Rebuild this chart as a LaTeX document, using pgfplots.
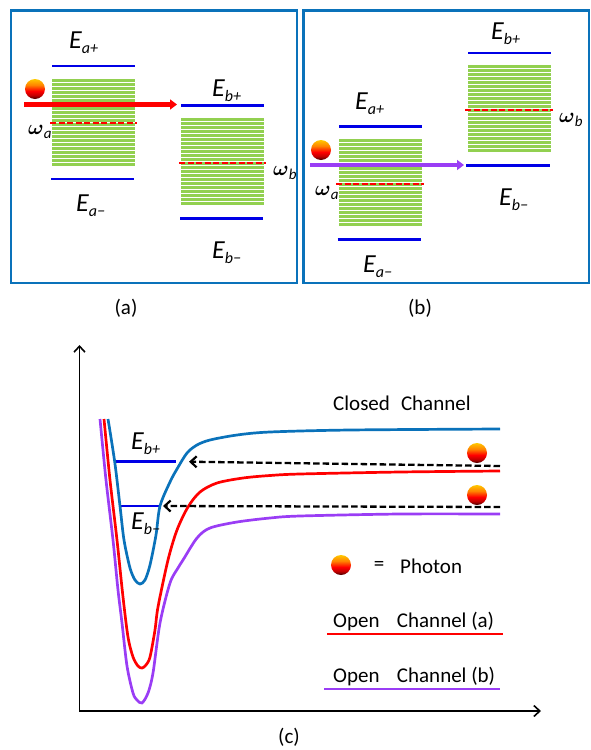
\documentclass[border=0pt]{standalone}
\usepackage{fontspec}
\setmainfont{Carlito}
\usepackage{pgfplots}
\pgfplotsset{compat=1.18}
\usetikzlibrary{arrows.meta}
\definecolor{boxblue}{HTML}{0A72BA}
\definecolor{lev}{HTML}{0000E6}
\definecolor{grn}{HTML}{92D050}
\definecolor{purp}{HTML}{9A3DF5}
\definecolor{ph1}{HTML}{FFC800}
\definecolor{ph2}{HTML}{FF8400}
\pgfdeclareverticalshading{photonsh}{100bp}{color(0bp)=(black!70!red); color(25bp)=(black!75!red); color(34bp)=(black!25!red); color(45bp)=(red); color(60bp)=(ph2); color(75bp)=(ph1); color(100bp)=(ph1)}
\pgfdeclareplotmark{photon}{%
  \shade[shading=photonsh, draw=none] (0,0) circle (10pt);}
\newcommand\lab[2]{{\fontsize{26}{26}\selectfont\itshape #1}{\fontsize{16}{16}\selectfont\itshape\raisebox{-5pt}{#2}}}
\newcommand\om[1]{{\fontsize{21}{21}\selectfont$\boldsymbol{\omega}$}{\fontsize{15}{15}\selectfont\itshape\raisebox{-4pt}{#1}}}
\usepackage{amsmath}
\tikzset{t/.style={inner sep=0pt,anchor=base west}, c/.style={inner sep=0pt,anchor=center}}
\pgfplotsset{
  band/.style={draw=none,mark=none,forget plot,
    error bars/.cd,x dir=plus,x fixed=83,error mark=none,
    error bar style={grn,line width=3pt,solid}},
  level/.style={lev,line width=2.5pt,mark=none},
  rdash/.style={red,line width=2.5pt,mark=none,dash pattern=on 6pt off 2.5pt},
  pot/.style={line width=2.7pt,mark=none,smooth,tension=0.5},
  blk/.style={black,line width=2.3pt,mark=none,dash pattern=on 6.5pt off 3pt,-{Straight Barb[length=6pt,width=11pt,line width=2.2pt]}},
  ax/.style={black,line width=1.7pt,mark=none,-{Straight Barb[length=6pt,width=11pt,line width=1.6pt]}},
  ball/.style={only marks,mark=photon},
}
\begin{document}
\begin{tikzpicture}
\useasboundingbox (0,0) rectangle (590pt,750pt);
\begin{axis}[
  at={(0,0)}, anchor=south west,
  hide axis, scale only axis, width=590pt, height=750pt,
  xmin=0,xmax=590,ymin=0,ymax=750,y dir=reverse,clip=false]
% frames
\addplot[boxblue,line width=2.3pt,mark=none] coordinates {(11,10.5)(297,10.5)(297,283)(11,283)(11,10.5)(297,10.5)};
\addplot[boxblue,line width=2.3pt,mark=none] coordinates {(303.5,10.5)(589,10.5)(589,283)(303.5,283)(303.5,10.5)(589,10.5)};
% bands
\addplot[band] coordinates {(52,80)(52,84)(52,88)(52,92)(52,96)(52,100)(52,104)(52,108)(52,112)(52,116)(52,120)(52,124)(52,128)(52,132)(52,136)(52,140)(52,144)(52,148)(52,152)(52,156)(52,160)(52,164)};
\addplot[band] coordinates {(181,119)(181,123)(181,127)(181,131)(181,135)(181,139)(181,143)(181,147)(181,151)(181,155)(181,159)(181,163)(181,167)(181,171)(181,175)(181,179)(181,183)(181,187)(181,191)(181,195)(181,199)(181,203)};
\addplot[band] coordinates {(339,140)(339,144)(339,148)(339,152)(339,156)(339,160)(339,164)(339,168)(339,172)(339,176)(339,180)(339,184)(339,188)(339,192)(339,196)(339,200)(339,204)(339,208)(339,212)(339,216)(339,220)(339,224)};
\addplot[band] coordinates {(468,66)(468,70)(468,74)(468,78)(468,82)(468,86)(468,90)(468,94)(468,98)(468,102)(468,106)(468,110)(468,114)(468,118)(468,122)(468,126)(468,130)(468,134)(468,138)(468,142)(468,146)(468,150)};
% levels (a)
\addplot[level] coordinates {(52,66)(135,66)};
\addplot[level] coordinates {(51,179)(134,179)};
\addplot[level] coordinates {(181,105.5)(264,105.5)};
\addplot[level] coordinates {(180,218.5)(263,218.5)};
% levels (b)
\addplot[level] coordinates {(339,126.5)(422,126.5)};
\addplot[level] coordinates {(337.5,239.5)(420.5,239.5)};
\addplot[level] coordinates {(468,53)(551,53)};
\addplot[level] coordinates {(466,165.5)(550,165.5)};
% red dashed
\addplot[rdash] coordinates {(50,123)(137,123)};
\addplot[rdash] coordinates {(179,163)(266,163)};
\addplot[rdash] coordinates {(336,184)(424,184)};
\addplot[rdash] coordinates {(465,110)(553,110)};
% arrows
\addplot[red,line width=4.5pt,mark=none,-{Triangle[length=7pt,width=10pt]}] coordinates {(24,104.5)(177,104.5)};
\addplot[purp,line width=4.5pt,mark=none,-{Triangle[length=7pt,width=10pt]}] coordinates {(310,165)(464,165)};
% axes
\addplot[ax] coordinates {(79.5,711)(79.5,345)};
\addplot[ax] coordinates {(79,711)(541,711)};
% levels (c)
\addplot[level] coordinates {(115,461.5)(176,461.5)};
\addplot[level] coordinates {(120,506)(160,506)};
% potentials
\addplot[pot,purp] coordinates {(100,419)(106,480)(113,540)(118,590)(122,623)(127,666)(133,693)(137,700)(142,703)(148,693)(153,673)(160,623)(170,583)(178,568)(183,560)(197,538)(210,528)(237,522)(270,518)(300,516)(400,514)(500,514)};
\addplot[pot,red] coordinates {(104,419)(110,480)(117,540)(123,597)(128,637)(133,657)(138,666)(142,668)(146,665)(150,657)(155,630)(158,607)(168,560)(177,530)(188,507)(200,492)(217,483)(243,478)(270,475.5)(300,474)(400,472)(500,471)};
\addplot[pot,boxblue] coordinates {(108,419)(114.7,461.7)(120,506)(124,540)(130,568)(135,580)(140,584)(145,580)(150,565)(156,535)(160,506)(170,482)(177,469)(187,453)(197,445)(210,440)(237,435)(270,432)(350,430)(500,429)};
% dashed arrows
\addplot[blk] coordinates {(500,466)(189,461.7)};
\addplot[blk] coordinates {(500,507)(163,506)};
% legend lines
\addplot[red,line width=2.5pt,mark=none] coordinates {(327,634)(503,634)};
\addplot[purp,line width=2.5pt,mark=none] coordinates {(324,689)(500,689)};
% photons
\addplot[ball] coordinates {(35,89)(321,150)(477,453)(477,495)(341,565)};
% texts
\node[t] at (axis cs:69,48) {\lab{E}{a+}};
\node[t] at (axis cs:76,211) {\lab{E}{a−}};
\node[t] at (axis cs:212,96) {\lab{E}{b+}};
\node[t] at (axis cs:212,258) {\lab{E}{b−}};
\node[t] at (axis cs:28,134) {\om{a}};
\node[t] at (axis cs:273,175) {\om{b}};
\node[t] at (axis cs:491,39) {\lab{E}{b+}};
\node[t] at (axis cs:355,109) {\lab{E}{a+}};
\node[t] at (axis cs:499,205) {\lab{E}{b−}};
\node[t] at (axis cs:363,272) {\lab{E}{a−}};
\node[t] at (axis cs:315,195) {\om{a}};
\node[t] at (axis cs:559,122) {\om{b}};
\node[t] at (axis cs:131,449) {\lab{E}{b+}};
\node[t] at (axis cs:131,529) {\lab{E}{b−}};
\fontsize{21}{24}\selectfont
\node[c] at (axis cs:126,308) {(a)};
\node[c] at (axis cs:420,308) {(b)};
\node[c] at (axis cs:289,737) {(c)};
\node[t] at (axis cs:333,410) {Closed\hspace{0.3em} Channel};
\node[c] at (axis cs:379,566) {=};
\node[t] at (axis cs:400,573) {Photon};
\node[t] at (axis cs:333,627) {Open\hspace{0.6em} Channel (a)};
\node[t] at (axis cs:333,682) {Open\hspace{0.6em} Channel (b)};
\end{axis}
\end{tikzpicture}
\end{document}
